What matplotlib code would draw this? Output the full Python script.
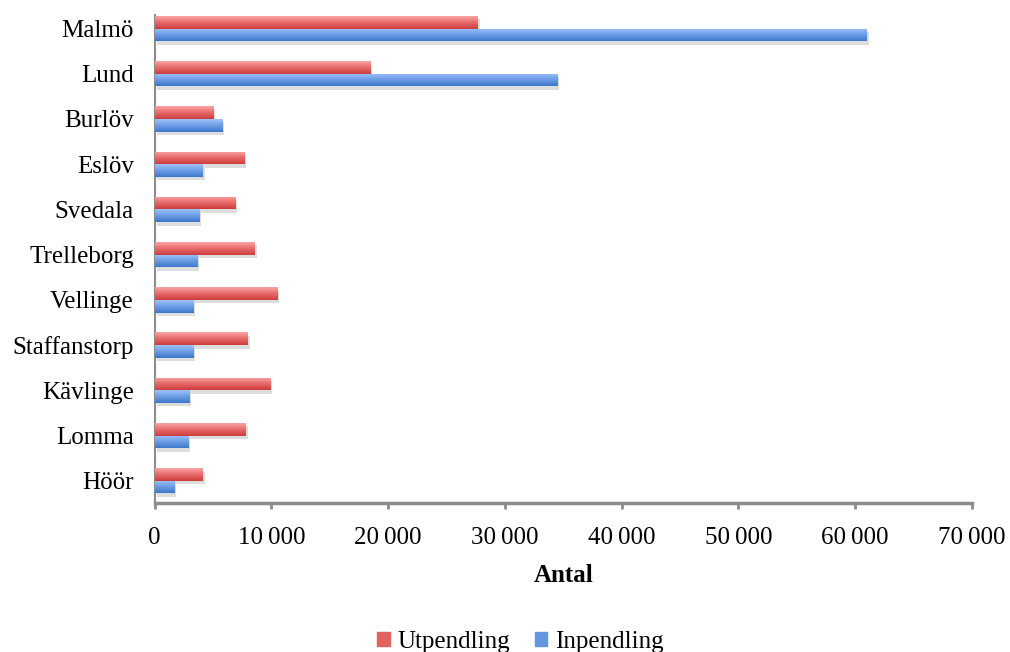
import numpy as np
import matplotlib
matplotlib.use("Agg")
import matplotlib.pyplot as plt
from matplotlib import patheffects
from matplotlib.ticker import FuncFormatter, MultipleLocator
from matplotlib.colors import LinearSegmentedColormap
from matplotlib.patches import Rectangle

plt.rcParams['font.family'] = ['Liberation Serif', 'DejaVu Serif']

kommuner = ["Malmö", "Lund", "Burlöv", "Eslöv", "Svedala", "Trelleborg",
            "Vellinge", "Staffanstorp", "Kävlinge", "Lomma", "Höör"]
utpendling = [27650, 18430, 4970, 7670, 6900, 8560, 10470, 7960, 9900, 7790, 4110]
inpendling = [60990, 34440, 5740, 4110, 3820, 3620, 3310, 3310, 2940, 2830, 1650]

red_grad = LinearSegmentedColormap.from_list("r", ["#fca3a3", "#e86a6a", "#cc3d3d"])
blue_grad = LinearSegmentedColormap.from_list("b", ["#9fc0fa", "#6c9de6", "#3e77cb"])

fig = plt.figure(figsize=(10.1, 6.52), dpi=100)
ax = fig.add_axes([0.1532, 0.228, 0.809, 0.749])

y = np.arange(len(kommuner))
h = 0.28
shadow = [patheffects.SimplePatchShadow(offset=(1.5, -2.5), alpha=0.2, shadow_rgbFace="#555555"),
          patheffects.Normal()]

def grad_bars(vals, offset, cmap):
    bars = ax.barh(y + offset, vals, height=h, color=cmap(0.5), zorder=2)
    grad = np.linspace(0, 1, 64).reshape(-1, 1)
    for b in bars:
        b.set_path_effects(shadow)
        x0, y0 = b.get_x(), b.get_y()
        w, hh = b.get_width(), b.get_height()
        im = ax.imshow(grad, cmap=cmap, aspect="auto", zorder=3,
                       extent=(x0, x0 + w, y0, y0 + hh), origin="lower")
        im.set_clip_path(Rectangle((x0, y0), w, hh, transform=ax.transData))
    return bars

grad_bars(utpendling, -h / 2, red_grad)
grad_bars(inpendling, h / 2, blue_grad)

ax.set_xlim(0, 70000)
ax.set_ylim(10.5, -0.3)
ax.set_yticks(y)
ax.set_yticklabels(kommuner, fontsize=18)
ax.tick_params(axis="y", length=0, pad=15)
ax.xaxis.set_major_locator(MultipleLocator(10000))
ax.xaxis.set_major_formatter(FuncFormatter(lambda v, p: f"{v:,.0f}".replace(",", "\u2009")))
ax.tick_params(axis="x", direction="out", length=4, width=2, color="#8c8c8c",
               labelsize=18, pad=13)

for s in ["top", "right"]:
    ax.spines[s].set_visible(False)
ax.spines["bottom"].set_color("#8c8c8c")
ax.spines["bottom"].set_linewidth(2.5)
ax.spines["left"].set_color("#8c8c8c")
ax.spines["left"].set_linewidth(1.5)

ax.set_xlabel("Antal", fontsize=18, fontweight="bold", labelpad=11)

handles = [Rectangle((0, 0), 1, 1, color=red_grad(0.6)),
           Rectangle((0, 0), 1, 1, color=blue_grad(0.6))]
fig.legend(handles, ["Utpendling", "Inpendling"], loc="center",
           bbox_to_anchor=(0.515, 0.016), ncol=2, frameon=False, fontsize=18,
           handlelength=0.5, handleheight=0.5, handletextpad=0.3, columnspacing=1.0)

fig.savefig("out.png", dpi=100)
